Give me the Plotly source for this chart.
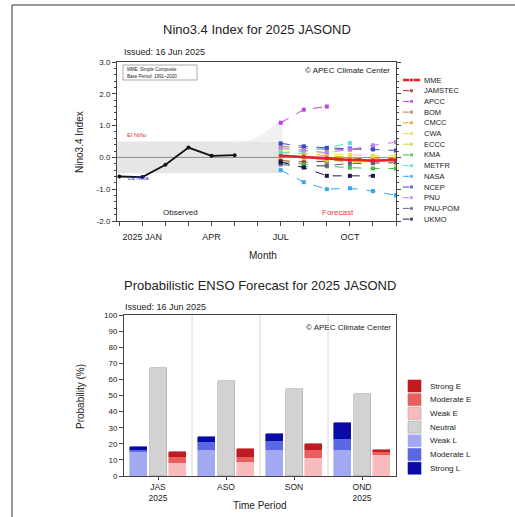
import plotly.graph_objects as go

W, H = 515, 517

# ---------------- data: top chart ----------------
month_ticks = list(range(13))  # 0 = DEC 2024 ... 12 = DEC 2025
month_labels = ["", "2025 JAN", "", "", "APR", "", "", "JUL", "", "", "OCT", "", ""]
obs_months = [0, 1, 2, 3, 4, 5]
obs_values = [-0.60, -0.62, -0.23, 0.31, 0.05, 0.07]
fc_months = [7, 8, 9, 10, 11, 12]

models = ["MME", "JAMSTEC", "APCC", "BOM", "CMCC", "CWA", "ECCC", "KMA",
          "METFR", "NASA", "NCEP", "PNU", "PNU-POM", "UKMO"]
model_colors = ["#e8202a", "#a0301a", "#c040e0", "#b08040", "#f0a020", "#ece040",
                "#c0dc30", "#3cc03c", "#50e0e0", "#35a8e8", "#3a4ad0", "#c080f0",
                "#6a5a9a", "#1a1a4a"]
fc_values = {
    "MME":     [0.05, 0.02, -0.03, -0.08, -0.10, -0.08],
    "JAMSTEC": [-0.10, -0.15, -0.12, -0.05, 0.00, -0.05],
    "APCC":    [1.09, 1.50, 1.60, None, None, None],
    "BOM":     [0.35, 0.30, 0.25, 0.25, 0.28, None],
    "CMCC":    [0.15, 0.12, 0.05, 0.00, -0.02, 0.00],
    "CWA":     [0.25, 0.18, 0.12, 0.08, 0.05, 0.05],
    "ECCC":    [0.05, -0.02, -0.10, -0.15, -0.18, -0.20],
    "KMA":     [-0.15, -0.22, -0.28, -0.32, -0.35, -0.35],
    "METFR":   [0.15, 0.20, 0.30, 0.45, None, None],
    "NASA":    [-0.40, -0.78, -1.00, -0.97, -1.06, -1.19],
    "NCEP":    [0.44, 0.35, 0.30, 0.28, 0.25, 0.22],
    "PNU":     [0.30, 0.22, 0.15, 0.25, 0.38, 0.48],
    "PNU-POM": [-0.22, -0.30, -0.25, -0.20, -0.18, -0.15],
    "UKMO":    [-0.15, -0.32, -0.58, -0.58, -0.58, None],
}
plume_months = [5, 5.5, 6, 6.5, 7]
plume_upper = [0.45, 0.52, 0.65, 0.88, 1.15]
threshold = 0.5

# ---------------- data: bottom chart ----------------
periods = ["JAS<br>2025", "ASO", "SON", "OND<br>2025"]
weak_L = [15, 16, 16, 16]
moderate_L = [1, 5, 6, 7]
strong_L = [2, 3, 4, 10]
neutral = [67, 59, 54, 51]
weak_E = [8, 9, 11, 13]
moderate_E = [4, 3, 5, 2]
strong_E = [3, 5, 4, 1]
cat_names = ["Strong E", "Moderate E", "Weak E", "Neutral", "Weak L", "Moderate L", "Strong L"]
cat_colors = ["#c01a22", "#e6605f", "#f7babd", "#d2d2d2", "#a2a8f2", "#5a68e6", "#0a0aa8"]

FONT = "Liberation Sans, Arial, sans-serif"
TXT = "#222222"

def px(x):
    return x / W

def py(y):
    return 1 - y / H

fig = go.Figure()

# ---------- top chart ----------
fig.add_trace(go.Scatter(x=[-0.1, 7, 7, -0.1], y=[threshold, threshold, -threshold, -threshold],
                         fill="toself", fillcolor="#e6e6e6", line=dict(width=0),
                         mode="lines", hoverinfo="skip", showlegend=False, xaxis="x", yaxis="y"))
fig.add_trace(go.Scatter(x=plume_months + plume_months[::-1],
                         y=plume_upper + [threshold] * len(plume_months),
                         fill="toself", fillcolor="#f1f1f1", line=dict(width=0, shape="spline"),
                         mode="lines", hoverinfo="skip", showlegend=False, xaxis="x", yaxis="y"))
fig.add_trace(go.Scatter(x=[-0.1, 12], y=[0, 0], mode="lines",
                         line=dict(color="#777777", width=0.8), hoverinfo="skip",
                         showlegend=False, xaxis="x", yaxis="y"))

for name, col in zip(models, model_colors):
    if name == "MME":
        continue
    fig.add_trace(go.Scatter(x=fc_months, y=fc_values[name], mode="lines+markers",
                             line=dict(color=col, width=1, dash="dash"),
                             marker=dict(symbol="square", size=4, color=col),
                             showlegend=False, xaxis="x", yaxis="y"))
fig.add_trace(go.Scatter(x=fc_months, y=fc_values["MME"], mode="lines+markers",
                         line=dict(color=model_colors[0], width=2.6),
                         marker=dict(symbol="circle", size=4, color=model_colors[0]),
                         showlegend=False, xaxis="x", yaxis="y"))
fig.add_trace(go.Scatter(x=obs_months, y=obs_values, mode="lines+markers",
                         line=dict(color="#111111", width=1.8),
                         marker=dict(symbol="circle", size=4, color="#111111"),
                         showlegend=False, xaxis="x", yaxis="y"))

# ---------- bottom chart ----------
xs = list(range(len(periods)))
off = 0.28
bw = 0.25
for vals, col, nm, sh in [(weak_L, cat_colors[4], "Weak L", -off), (moderate_L, cat_colors[5], "Moderate L", -off),
                          (strong_L, cat_colors[6], "Strong L", -off), (neutral, cat_colors[3], "Neutral", 0),
                          (weak_E, cat_colors[2], "Weak E", off), (moderate_E, cat_colors[1], "Moderate E", off),
                          (strong_E, cat_colors[0], "Strong E", off)]:
    fig.add_trace(go.Bar(x=[v + sh for v in xs], y=vals, width=bw, name=nm,
                         marker=dict(color=col,
                                     line=dict(color="#a8a8a8" if nm == "Neutral" else col, width=0.6)),
                         showlegend=False, xaxis="x2", yaxis="y2"))

# ---------- manual legend (top) in pixel overlay axis ----------
leg_y0, leg_dy = 80, 10.7
for i, (name, col) in enumerate(zip(models, model_colors)):
    yy = leg_y0 + i * leg_dy
    is_mme = name == "MME"
    fig.add_trace(go.Scatter(x=[403, 411.5, 420], y=[yy, yy, yy], mode="lines+markers",
                             line=dict(color=col, width=2.6 if is_mme else 1, dash="solid" if is_mme else "dash"),
                             marker=dict(symbol="circle" if is_mme else "square", size=[0, 4, 0], color=col),
                             showlegend=False, hoverinfo="skip", xaxis="x3", yaxis="y3"))

annotations = []
for i, name in enumerate(models):
    yy = leg_y0 + i * leg_dy
    annotations.append(dict(x=422, y=yy, xref="x3", yref="y3", text=name, showarrow=False,
                            xanchor="left", yanchor="middle", font=dict(size=7.5, color=TXT, family=FONT)))

shapes = []
# bottom legend
bl_y0, bl_dy = 386, 13.7
for i, (nm, col) in enumerate(zip(cat_names, cat_colors)):
    yy = bl_y0 + i * bl_dy
    shapes.append(dict(type="rect", xref="x3", yref="y3", x0=408, x1=421, y0=yy - 6, y1=yy + 6,
                       fillcolor=col, line=dict(color="#a8a8a8" if nm in ("Neutral", "Weak E") else col, width=0.6)))
    annotations.append(dict(x=428, y=yy, xref="x3", yref="y3", text=nm, showarrow=False,
                            xanchor="left", yanchor="middle", font=dict(size=8, color=TXT, family=FONT)))

# bottom separators
for s in [0.5, 1.5, 2.5]:
    shapes.append(dict(type="line", xref="x2", yref="y2 domain", x0=s, x1=s, y0=0, y1=1,
                       line=dict(color="#cccccc", width=0.8), layer="below"))

# info box in top chart
shapes.append(dict(type="rect", xref="x3", yref="y3", x0=123, x1=197, y0=65, y1=80,
                   line=dict(color="#888888", width=0.7), fillcolor="white"))
# page frame
shapes.append(dict(type="line", xref="x3", yref="y3", x0=12, x1=515, y0=5, y1=5,
                   line=dict(color="#333333", width=1)))
shapes.append(dict(type="line", xref="x3", yref="y3", x0=12, x1=12, y0=5, y1=517,
                   line=dict(color="#333333", width=1)))

def txt(x, y, s, size, color=TXT, xa="center", angle=0):
    annotations.append(dict(x=x, y=y, xref="x3", yref="y3", text=s, showarrow=False,
                            xanchor=xa, yanchor="middle", textangle=angle,
                            font=dict(size=size, color=color, family=FONT)))

txt(257, 29, "Nino3.4 Index for 2025 JASOND", 13)
txt(122, 52, "Issued: 16 Jun 2025", 9, xa="left")
txt(392, 70, "© APEC Climate Center", 8, xa="right")
txt(125, 69, "MME: Simple Composite", 4.5, xa="left")
txt(125, 76, "Base Period: 1991~2020", 4.5, xa="left")
txt(137, 135, "El Niño", 6, color="#e03030")
txt(138, 178, "La Niña", 6, color="#3030d0")
txt(180, 212, "Observed", 8)
txt(338, 212, "Forecast", 8, color="#e84040")
txt(263, 255, "Month", 10)
txt(79, 142, "Nino3.4 Index", 10, angle=-90)
txt(260, 285, "Probabilistic ENSO Forecast for 2025 JASOND", 13)
txt(123, 307, "Issued: 16 Jun 2025", 9, xa="left")
txt(393, 327, "© APEC Climate Center", 8, xa="right")
txt(80, 397, "Probability (%)", 10, angle=-90)
txt(260, 505, "Time Period", 10)

axis_common = dict(showgrid=False, zeroline=False, linecolor="#444444", linewidth=1,
                   tickcolor="#444444", ticks="outside", automargin=False,
                   tickfont=dict(size=8, color=TXT, family=FONT))

fig.update_layout(
    width=W, height=H, margin=dict(l=0, r=0, t=0, b=0),
    template="none", paper_bgcolor="white", plot_bgcolor="rgba(0,0,0,0)",
    barmode="stack", bargap=0, showlegend=False,
    xaxis=dict(domain=[px(117), px(396)], range=[-0.1, 12], anchor="y",
               tickvals=month_ticks, ticktext=month_labels, ticklen=4, mirror=True,
               ticklabelstandoff=3,
               **{k: v for k, v in axis_common.items() if k != "tickfont"},
               tickfont=dict(size=9, color=TXT, family=FONT)),
    yaxis=dict(domain=[py(221), py(62)], range=[-2, 3], anchor="x",
               tickvals=[-2, -1, 0, 1, 2, 3], ticktext=["-2.0", "-1.0", "0.0", "1.0", "2.0", "3.0"],
               ticklen=4, mirror="allticks",
               minor=dict(dtick=0.2, ticklen=2, ticks="outside", tickcolor="#444444"),
               **axis_common),
    xaxis2=dict(domain=[px(124), px(396)], range=[-0.5, 3.5], anchor="y2",
                tickvals=xs, ticktext=periods, ticklen=3, mirror=True,
                **{k: v for k, v in axis_common.items() if k != "tickfont"},
                tickfont=dict(size=8.5, color=TXT, family=FONT)),
    yaxis2=dict(domain=[py(476), py(315)], range=[0, 100], anchor="x2",
                tickvals=list(range(0, 101, 10)), ticklen=4, mirror=True,
                **axis_common),
    xaxis3=dict(domain=[0, 1], range=[0, W], visible=False, fixedrange=True, anchor="y3"),
    yaxis3=dict(domain=[0, 1], range=[H, 0], visible=False, fixedrange=True, anchor="x3"),
    annotations=annotations, shapes=shapes,
)

fig.write_html("out.html", config={"displayModeBar": False},
               post_script="document.body.style.margin='0px';document.body.style.overflow='hidden';")
